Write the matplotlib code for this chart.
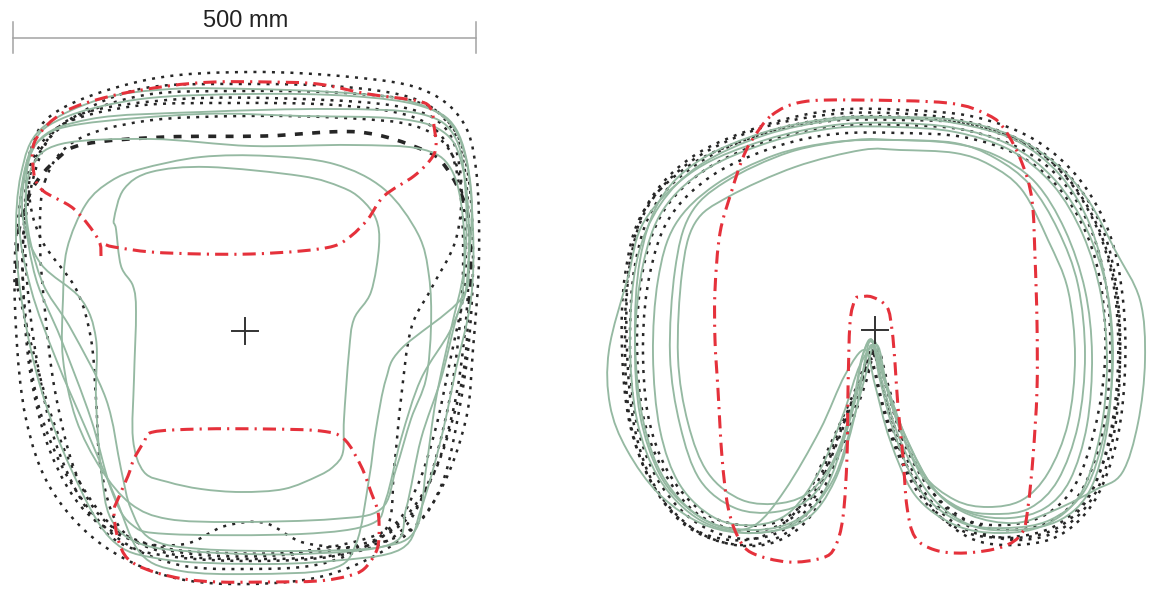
import numpy as np
import matplotlib
matplotlib.use("Agg")
import matplotlib.pyplot as plt
from matplotlib.path import Path
from matplotlib.patches import PathPatch

# ---------------------------------------------------------------------------
# Outlines, in drawing units relative to each panel's centre cross (x right, y up).
# Scale of the drawing: SCALE_BAR_UNITS drawing units = SCALE_BAR_MM millimetres.
# ---------------------------------------------------------------------------
SCALE_BAR_MM = 500
SCALE_BAR_UNITS = 463
SCALE_LABEL = "500 mm"

# ---- left panel -----------------------------------------------------------
left_red_upper = [(-144, 75), (-147, 92), (-171, 122), (-204, 142), (-212, 165), (-209, 192),
                  (-181, 219), (-134, 235), (-77, 245), (-31, 249), (23, 249), (73, 247),
                  (123, 237), (173, 230), (186, 222), (189, 205), (191, 185), (186, 172),
                  (169, 155), (139, 135), (123, 112), (106, 95), (89, 85), (56, 80), (6, 77),
                  (-44, 77), (-94, 79), (-131, 84), (-141, 87)]
left_red_lower = [(-92, -101), (-44, -98), (23, -98), (76, -100), (99, -108), (116, -135),
                  (126, -161), (133, -181), (134, -205), (131, -221), (119, -238), (103, -245),
                  (73, -250), (23, -251), (-27, -251), (-61, -248), (-94, -240), (-117, -228),
                  (-127, -208), (-131, -181), (-127, -168), (-117, -145), (-111, -128), (-101, -111)]

left_green_1 = [(-129, 102), (-124, 65), (-112, 45), (-109, 19), (-111, -48), (-112, -108),
                (-101, -141), (-77, -151), (-44, -158), (-4, -161), (39, -158), (73, -145),
                (89, -135), (98, -121), (99, -88), (104, -21), (109, 12), (126, 39), (134, 85),
                (131, 112), (116, 132), (96, 144), (56, 155), (-37, 164), (-94, 159), (-121, 142),
                (-131, 112)]
left_green_2 = [(-104, 162), (-44, 174), (23, 175), (89, 167), (139, 142), (173, 97), (184, 55),
                (186, 5), (181, -48), (166, -88), (151, -138), (136, -178), (89, -188), (-11, -191),
                (-77, -188), (-114, -173), (-144, -138), (-169, -88), (-182, -28), (-182, 32),
                (-178, 82), (-159, 127), (-134, 150)]
left_green_3 = [(-184, 187), (-94, 192), (6, 185), (106, 186), (176, 182), (206, 162), (218, 112),
                (218, 42), (206, 2), (176, -48), (156, -108), (141, -168), (126, -193), (56, -203),
                (-77, -203), (-114, -193), (-134, -158), (-154, -88), (-184, -8), (-209, 52),
                (-219, 112), (-214, 162)]
left_green_4 = [(-204, 192), (-164, 207), (-44, 217), (56, 215), (156, 212), (201, 197), (218, 162),
                (224, 102), (221, 42), (211, 12), (196, -48), (176, -108), (161, -178), (146, -213),
                (56, -223), (-44, -221), (-104, -213), (-134, -188), (-144, -138), (-149, -68),
                (-149, -8), (-164, 32), (-204, 67), (-222, 112), (-219, 162)]
left_green_5 = [(-214, 182), (-184, 212), (-104, 232), (6, 237), (106, 235), (176, 225), (211, 202),
                (226, 142), (224, 72), (216, 32), (156, -18), (141, -48), (131, -98), (124, -148),
                (111, -213), (86, -238), (6, -243), (-64, -240), (-104, -223), (-129, -168),
                (-159, -98), (-189, -28), (-214, 42), (-226, 112)]
left_green_6 = [(-224, 157), (-204, 202), (-144, 232), (-74, 242), (6, 242), (86, 239), (156, 232),
                (201, 212), (221, 172), (228, 102), (226, 32), (211, -38), (196, -108), (176, -178),
                (156, -218), (86, -230), (6, -233), (-84, -228), (-134, -208), (-174, -138),
                (-204, -58), (-222, 22), (-229, 92)]
left_green_7 = [(-209, 187), (-154, 212), (-44, 219), (86, 222), (176, 217), (211, 192), (221, 132),
                (219, 62), (206, 2), (191, -68), (181, -138), (171, -198), (136, -216), (56, -220),
                (-44, -218), (-94, -208), (-114, -178), (-124, -138), (-139, -68), (-174, 2),
                (-204, 52), (-219, 122)]

left_dotted_1 = [(-214, 182), (-184, 222), (-94, 252), (6, 259), (106, 254), (176, 242), (216, 212),
                 (231, 162), (234, 72), (228, -18), (221, -88), (196, -158), (156, -208), (86, -243),
                 (6, -253), (-74, -246), (-144, -213), (-194, -158), (-219, -88), (-229, 2), (-229, 92)]
left_dotted_2 = [(-204, 177), (-170, 215), (-100, 243), (0, 247), (100, 244), (170, 232), (205, 205),
                 (220, 160), (224, 80), (220, 0), (208, -80), (185, -150), (145, -200), (80, -232),
                 (0, -238), (-70, -233), (-130, -205), (-175, -150), (-205, -80), (-218, 0), (-222, 90)]
left_dotted_3 = [(-204, 182), (-164, 217), (-64, 232), (56, 232), (156, 224), (201, 202), (216, 152),
                 (211, 92), (186, 42), (166, 2), (156, -68), (149, -138), (141, -198), (96, -223),
                 (6, -228), (-74, -223), (-124, -198), (-144, -138), (-149, -68), (-154, -8),
                 (-169, 42), (-204, 92), (-216, 142)]
left_dotted_4 = [(-215, 165), (-185, 205), (-110, 225), (-10, 228), (90, 226), (165, 215), (200, 190),
                 (215, 140), (218, 60), (212, -20), (200, -90), (180, -160), (150, -205), (90, -225),
                 (10, -230), (-70, -226), (-125, -212), (-160, -175), (-190, -110), (-208, -30),
                 (-218, 50), (-220, 120)]
left_dotted_5 = [(-200, 150), (-170, 190), (-100, 210), (0, 215), (100, 213), (170, 205), (205, 180),
                 (218, 130), (220, 50), (205, -30), (190, -100), (170, -160), (140, -200), (60, -220),
                 (-20, -222), (-90, -215), (-140, -190), (-170, -140), (-190, -60), (-200, 20),
                 (-205, 90)]
left_dotted_6 = [(-210, 170), (-175, 210), (-100, 236), (0, 240), (100, 238), (175, 228), (210, 200),
                 (224, 150), (228, 70), (224, -10), (214, -80), (198, -150), (170, -195), (120, -215),
                 (60, -212), (20, -192), (-20, -195), (-60, -213), (-110, -210), (-160, -180),
                 (-195, -120), (-215, -40), (-222, 50), (-220, 120)]
# heavier dashed trace: upper part of the outline (left flank, top edge, right flank)
left_dashed_heavy = [(-228, 45), (-227, 95), (-214, 140), (-188, 172), (-160, 187), (-80, 194),
                     (20, 195), (113, 199), (176, 182), (200, 165), (222, 120), (226, 60),
                     (224, 30)]
# its lower part, drawn as a normal dotted trace
left_dashed_lower = [(224, 30), (220, -30), (210, -80), (190, -140), (160, -190), (110, -215),
                     (20, -225), (-60, -222), (-120, -205), (-160, -160), (-190, -95),
                     (-212, -20), (-228, 45)]

# ---- right panel ----------------------------------------------------------
right_red = [(-103, 215), (-73, 228), (-20, 230), (73, 227), (113, 215), (130, 200), (147, 167),
             (157, 130), (160, 73), (162, 7), (162, -60), (158, -127), (153, -177), (147, -203),
             (127, -217), (90, -223), (60, -220), (40, -207), (32, -177), (28, -127), (23, -77),
             (20, -33), (17, 0), (12, 23), (-3, 33), (-15, 33), (-20, 30), (-25, 7), (-27, -60),
             (-28, -127), (-32, -187), (-40, -217), (-53, -228), (-87, -232), (-123, -223),
             (-137, -207), (-147, -177), (-153, -127), (-157, -60), (-160, -10), (-160, 40),
             (-155, 97), (-143, 140), (-133, 170), (-123, 190)]

right_green_1 = [(-3, -12), (7, -43), (23, -93), (47, -143), (80, -170), (113, -177), (147, -170),
                 (173, -143), (193, -93), (200, -27), (193, 40), (173, 90), (147, 140), (115, 165),
                 (80, 177), (25, 180), (-13, 180), (-80, 163), (-147, 133), (-180, 107), (-193, 57),
                 (-197, -27), (-187, -93), (-167, -143), (-133, -170), (-93, -173), (-63, -160),
                 (-40, -127), (-23, -77), (-13, -27)]
right_green_2 = [(-3, -10), (8, -45), (25, -100), (50, -150), (85, -178), (120, -184), (155, -178),
                 (183, -150), (203, -95), (210, -25), (203, 45), (183, 100), (155, 145), (120, 172),
                 (80, 187), (20, 190), (-20, 190), (-85, 178), (-150, 148), (-185, 115), (-200, 60),
                 (-205, -25), (-195, -95), (-175, -150), (-140, -178), (-100, -182), (-65, -168),
                 (-40, -130), (-22, -75), (-12, -25)]
right_green_3 = [(-3, -15), (8, -55), (25, -110), (55, -165), (95, -195), (140, -200), (185, -190),
                 (215, -160), (232, -100), (237, -30), (232, 40), (215, 105), (185, 155), (140, 190),
                 (80, 207), (20, 212), (-40, 210), (-110, 195), (-175, 165), (-215, 125), (-238, 70),
                 (-245, -10), (-238, -90), (-215, -150), (-175, -190), (-125, -203), (-80, -193),
                 (-50, -160), (-28, -100), (-13, -45)]
right_green_4 = [(-5, -10), (5, -50), (20, -105), (45, -160), (85, -192), (130, -198), (175, -190),
                 (210, -160), (230, -100), (238, -30), (232, 40), (212, 100), (180, 150), (135, 185),
                 (80, 202), (20, 207), (-40, 205), (-110, 190), (-180, 160), (-230, 110), (-247, 53),
                 (-266, -20), (-265, -75), (-248, -120), (-215, -165), (-170, -195), (-120, -203),
                 (-70, -190), (-40, -150), (-20, -85)]
right_green_5 = [(0, -12), (10, -50), (30, -105), (60, -160), (95, -185), (140, -193), (180, -180),
                 (220, -160), (247, -143), (263, -93), (270, -30), (265, 30), (240, 80), (213, 130),
                 (180, 167), (135, 195), (80, 210), (20, 213), (-40, 212), (-110, 198), (-175, 170),
                 (-215, 130), (-235, 70), (-240, -10), (-232, -90), (-210, -150), (-170, -190),
                 (-120, -200), (-75, -188), (-42, -150), (-22, -90), (-8, -40)]
right_green_6 = [(-10, -20), (0, -55), (15, -110), (40, -165), (80, -195), (125, -203), (170, -195),
                 (205, -165), (225, -105), (232, -35), (226, 35), (208, 95), (178, 145), (135, 180),
                 (80, 198), (20, 203), (-40, 202), (-105, 188), (-170, 160), (-212, 120), (-232, 65),
                 (-240, -10), (-235, -85), (-215, -145), (-185, -180), (-150, -198), (-120, -195),
                 (-90, -160), (-55, -100), (-30, -45)]
right_green_7 = [(2, -15), (12, -55), (32, -110), (60, -160), (95, -183), (135, -188), (170, -178),
                 (195, -150), (212, -95), (217, -25), (210, 40), (190, 100), (160, 148), (120, 175),
                 (75, 187), (15, 190), (-40, 188), (-100, 175), (-160, 145), (-200, 105), (-217, 50),
                 (-222, -25), (-215, -100), (-195, -155), (-160, -188), (-120, -195), (-85, -182),
                 (-55, -140), (-32, -85), (-15, -35)]

right_dotted_1 = [(-3, -20), (8, -60), (25, -120), (55, -175), (95, -208), (140, -215), (185, -205),
                  (220, -170), (242, -110), (250, -40), (248, 30), (235, 95), (205, 150), (160, 190),
                  (100, 213), (30, 220), (-40, 220), (-110, 205), (-180, 175), (-225, 130), (-245, 70),
                  (-250, -10), (-245, -90), (-225, -150), (-190, -195), (-140, -215), (-95, -210),
                  (-60, -180), (-35, -120), (-15, -60)]
right_dotted_2 = [(-2, -25), (10, -65), (28, -120), (55, -170), (92, -200), (138, -208), (182, -198),
                  (215, -165), (235, -105), (243, -35), (240, 35), (225, 95), (195, 148), (155, 183),
                  (95, 205), (25, 213), (-40, 212), (-108, 198), (-175, 168), (-220, 125), (-240, 65),
                  (-245, -10), (-240, -85), (-220, -145), (-185, -188), (-140, -208), (-98, -203),
                  (-65, -175), (-40, -118), (-18, -62)]
right_dotted_3 = [(0, -20), (12, -60), (30, -115), (58, -163), (95, -192), (135, -200), (178, -190),
                  (208, -158), (228, -100), (235, -30), (232, 38), (217, 98), (188, 148), (148, 180),
                  (90, 200), (25, 205), (-40, 204), (-105, 190), (-170, 160), (-212, 118), (-232, 60),
                  (-238, -10), (-232, -85), (-212, -140), (-180, -182), (-137, -200), (-95, -195),
                  (-62, -165), (-38, -110), (-16, -55)]
right_dotted_4 = [(-3, -37), (8, -75), (25, -125), (52, -168), (90, -190), (130, -195), (170, -185),
                  (200, -155), (220, -98), (230, -30), (227, 38), (212, 95), (183, 143), (143, 175),
                  (88, 193), (25, 197), (-40, 196), (-100, 183), (-162, 155), (-205, 113), (-225, 57),
                  (-232, -12), (-227, -85), (-208, -140), (-175, -180), (-135, -195), (-93, -190),
                  (-62, -160), (-40, -110), (-20, -65)]
right_dotted_5 = [(2, -18), (14, -58), (32, -115), (62, -168), (100, -200), (145, -210), (188, -198),
                  (222, -160), (240, -98), (245, -25), (240, 45), (222, 105), (190, 155), (145, 190),
                  (85, 210), (15, 217), (-50, 215), (-120, 200), (-185, 168), (-228, 122), (-246, 60),
                  (-248, -20), (-240, -100), (-218, -160), (-180, -200), (-135, -215), (-92, -205),
                  (-58, -170), (-30, -110), (-10, -55)]
right_dotted_6 = [(-5, -28), (5, -68), (22, -122), (50, -172), (90, -202), (135, -207), (180, -196),
                  (215, -162), (237, -102), (245, -30), (242, 40), (228, 100), (198, 150), (155, 185),
                  (95, 206), (25, 210), (-45, 209), (-115, 195), (-185, 165), (-232, 118), (-250, 55),
                  (-253, -20), (-245, -95), (-222, -155), (-188, -195), (-145, -210), (-105, -203),
                  (-72, -172), (-45, -115), (-22, -65)]

LEFT_GREEN = [left_green_1, left_green_2, left_green_3, left_green_4,
              left_green_5, left_green_6, left_green_7]
LEFT_DOTTED = [left_dotted_1, left_dotted_2, left_dotted_3, left_dotted_4,
               left_dotted_5, left_dotted_6]
RIGHT_GREEN = [right_green_1, right_green_2, right_green_3, right_green_4,
               right_green_5, right_green_6, right_green_7]
RIGHT_DOTTED = [right_dotted_1, right_dotted_2, right_dotted_3, right_dotted_4,
                right_dotted_5, right_dotted_6]

# ---------------------------------------------------------------------------
# Styling and layout
# ---------------------------------------------------------------------------
W, H = 1152, 590
LEFT_CENTRE = (245, H - 331)
RIGHT_CENTRE = (875, H - 330)
CROSS_HALF = 13

RED = "#e5313b"
GREEN = "#95b9a2"
BLACK = "#262626"

STYLE_RED = dict(edgecolor=RED, linewidth=2.2, linestyle=(0, (4.3, 2.0, 0.7, 2.0)))
STYLE_GREEN = dict(edgecolor=GREEN, linewidth=1.35, linestyle="-")
STYLE_DOTTED = dict(edgecolor=BLACK, linewidth=1.8, linestyle=(0, (1.2, 2.5)))
STYLE_HEAVY = dict(edgecolor=BLACK, linewidth=2.6, linestyle=(0, (2.2, 2.6)))


def smooth_path(points, centre, closed=True):
    """Smooth outline through the given points (Catmull-Rom as cubic Bezier)."""
    p = np.asarray(points, dtype=float) + np.asarray(centre, dtype=float)
    n = len(p)
    if closed:
        get = lambda i: p[i % n]
        nseg = n
    else:
        get = lambda i: p[min(max(i, 0), n - 1)]
        nseg = n - 1
    verts = [p[0]]
    codes = [Path.MOVETO]
    for i in range(nseg):
        p0, p1, p2, p3 = get(i - 1), get(i), get(i + 1), get(i + 2)
        c1 = p1 + (p2 - p0) / 6.0
        c2 = p2 - (p3 - p1) / 6.0
        verts += [c1, c2, p2]
        codes += [Path.CURVE4] * 3
    return Path(verts, codes)


def draw_outline(ax, points, centre, style, closed=True, z=2):
    patch = PathPatch(smooth_path(points, centre, closed), facecolor="none",
                      capstyle="butt", joinstyle="round", zorder=z, **style)
    ax.add_patch(patch)


def draw_cross(ax, centre):
    cx, cy = centre
    ax.plot([cx - CROSS_HALF, cx + CROSS_HALF], [cy, cy], color="#333333", lw=1.4, zorder=5)
    ax.plot([cx, cx], [cy - CROSS_HALF, cy + CROSS_HALF], color="#333333", lw=1.4, zorder=5)


fig = plt.figure(figsize=(W / 100, H / 100), dpi=100)
ax = fig.add_axes([0, 0, 1, 1])
ax.set_xlim(0, W)
ax.set_ylim(0, H)
ax.set_aspect("equal")
ax.axis("off")

# left panel
for pts in LEFT_DOTTED:
    draw_outline(ax, pts, LEFT_CENTRE, STYLE_DOTTED, z=2)
draw_outline(ax, left_dashed_heavy, LEFT_CENTRE, STYLE_HEAVY, closed=False, z=2)
draw_outline(ax, left_dashed_lower, LEFT_CENTRE, STYLE_DOTTED, closed=False, z=2)
for pts in LEFT_GREEN:
    draw_outline(ax, pts, LEFT_CENTRE, STYLE_GREEN, z=3)
draw_outline(ax, left_red_upper, LEFT_CENTRE, STYLE_RED, closed=False, z=4)
draw_outline(ax, left_red_lower, LEFT_CENTRE, STYLE_RED, z=4)
draw_cross(ax, LEFT_CENTRE)

# right panel
for pts in RIGHT_DOTTED:
    draw_outline(ax, pts, RIGHT_CENTRE, STYLE_DOTTED, z=2)
for pts in RIGHT_GREEN:
    draw_outline(ax, pts, RIGHT_CENTRE, STYLE_GREEN, z=3)
draw_outline(ax, right_red, RIGHT_CENTRE, STYLE_RED, z=4)
draw_cross(ax, RIGHT_CENTRE)

# scale bar
bar_x0 = 13
bar_y = H - 38
bar_x1 = bar_x0 + SCALE_BAR_UNITS * (SCALE_BAR_MM / 500)
ax.plot([bar_x0, bar_x1], [bar_y, bar_y], color="#a3a3a3", lw=1.1, zorder=5)
for xe in (bar_x0, bar_x1):
    ax.plot([xe, xe], [bar_y - 15, bar_y + 16], color="#a3a3a3", lw=1.1, zorder=5)
ax.text((bar_x0 + bar_x1) / 2 + 1, H - 27, SCALE_LABEL, ha="center", va="baseline",
        fontsize=17, family=["Liberation Sans", "DejaVu Sans"], color="#222222")

fig.savefig("out.png", dpi=100, facecolor="white")
